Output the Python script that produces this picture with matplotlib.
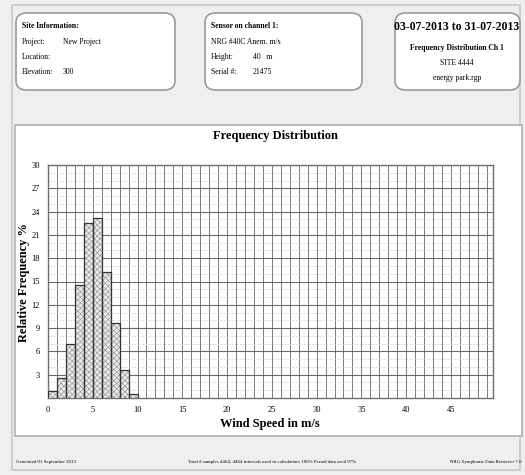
import matplotlib
matplotlib.use("Agg")
import matplotlib.pyplot as plt
from matplotlib.patches import FancyBboxPatch, Rectangle
from matplotlib.ticker import MultipleLocator

# wind speed bins (m/s, left edge) and relative frequency %
bins = [0, 1, 2, 3, 4, 5, 6, 7, 8, 9]
freq = [0.9, 2.6, 7.0, 14.6, 22.5, 23.2, 16.2, 9.7, 3.6, 0.5]
xticks = [0, 5, 10, 15, 20, 25, 30, 35, 40, 45]
yticks = [3, 6, 9, 12, 15, 18, 21, 24, 27, 30]

site_info = [("Project:", "New Project"), ("Location:", ""), ("Elevation:", "300")]
sensor_info = [("NRG #40C Anem. m/s", ""), ("Height:", "40   m"), ("Serial #:", "21475")]
period = "03-07-2013 to 31-07-2013"
box3_lines = ["Frequency Distribution Ch 1", "SITE 4444", "energy park.rgp"]
footer = ["Generated 01 September 2013",
          "Total # samples 4464; 4464 intervals used in calculation; 100% Period data used 97%",
          "NRG Symphonie Data Retriever 7.0"]

plt.rcParams["font.family"] = ["Liberation Serif", "DejaVu Serif"]
plt.rcParams["hatch.linewidth"] = 0.5

W, H = 525, 475
fig = plt.figure(figsize=(5.25, 4.75), dpi=100, facecolor="#efefef")


def fx(px):
    return px / W


def fy(py):
    return 1 - py / H


# outer panel edge
fig.add_artist(Rectangle((fx(12), fy(470)), fx(520) - fx(12), fy(5) - fy(470),
                         transform=fig.transFigure, fill=False, ec="#c8c8c8", lw=1.2, zorder=-2))

# header boxes
for x0, x1 in [(16, 175), (205, 362), (395, 520)]:
    fig.add_artist(FancyBboxPatch((fx(x0), fy(90)), fx(x1) - fx(x0), fy(13) - fy(90),
                                  boxstyle="round,pad=0,rounding_size=0.02",
                                  transform=fig.transFigure, fc="white", ec="#9a9a9a", lw=1.2))

fig.text(fx(22), fy(26), "Site Information:", fontsize=5.5, fontweight="bold", va="center")
for i, (k, v) in enumerate(site_info):
    fig.text(fx(22), fy(42 + 15 * i), k, fontsize=5.5, va="center")
    fig.text(fx(63), fy(42 + 15 * i), v, fontsize=5.5, va="center")

fig.text(fx(211), fy(26), "Sensor on channel 1:", fontsize=5.5, fontweight="bold", va="center")
for i, (k, v) in enumerate(sensor_info):
    fig.text(fx(211), fy(42 + 15 * i), k, fontsize=5.5, va="center")
    fig.text(fx(253), fy(42 + 15 * i), v, fontsize=5.5, va="center")

fig.text(fx(457), fy(27), period, fontsize=8.5, fontweight="bold", ha="center", va="center")
fig.text(fx(457), fy(48), box3_lines[0], fontsize=5.5, fontweight="bold", ha="center", va="center")
fig.text(fx(457), fy(63), box3_lines[1], fontsize=5.5, ha="center", va="center")
fig.text(fx(457), fy(78), box3_lines[2], fontsize=5.5, ha="center", va="center")

# chart panel
fig.add_artist(Rectangle((fx(15), fy(436)), fx(522) - fx(15), fy(125) - fy(436),
                         transform=fig.transFigure, fc="white", ec="#b0b0b0", lw=1.2, zorder=-1))

ax = fig.add_axes([fx(48), fy(398), fx(493) - fx(48), fy(165) - fy(398)])
ax.set_zorder(2)
ax.set_facecolor("white")
# hatched fill in light grey, dark outline drawn on top
ax.bar(bins, freq, width=1.0, align="edge", color="#ececec", edgecolor="#9a9a9a",
       hatch="xxxxxx", linewidth=0, zorder=3)
ax.bar(bins, freq, width=1.0, align="edge", fill=False, edgecolor="#333333",
       linewidth=0.9, zorder=4)
ax.set_xlim(0, 49.7)
ax.set_ylim(0, 30)
ax.xaxis.set_minor_locator(MultipleLocator(1))
ax.yaxis.set_minor_locator(MultipleLocator(1))
ax.set_xticks(xticks)
ax.set_yticks(yticks)
ax.grid(which="both", axis="x", color="#7a7a7a", lw=0.7, zorder=0)
ax.grid(which="major", axis="y", color="#6a6a6a", lw=0.8, zorder=0)
ax.grid(which="minor", axis="y", color="#c0c0c0", lw=0.5, ls=(0, (2, 2)), zorder=0)
ax.tick_params(which="both", length=0, labelsize=6, pad=6)
for s in ax.spines.values():
    s.set_color("#707070")
    s.set_linewidth(1.0)

fig.text(fx(275), fy(136), "Frequency Distribution", fontsize=9, fontweight="bold",
         ha="center", va="center")
fig.text(fx(270), fy(424), "Wind Speed in m/s", fontsize=9, fontweight="bold",
         ha="center", va="center")
fig.text(fx(24), fy(282), "Relative Frequency %", fontsize=9, fontweight="bold",
         ha="center", va="center", rotation=90)

# footer
fig.text(fx(16), fy(462), footer[0], fontsize=3.5, va="center")
fig.text(fx(272), fy(462), footer[1], fontsize=3.5, va="center", ha="center")
fig.text(fx(522), fy(462), footer[2], fontsize=3.5, va="center", ha="right")

fig.savefig("out.png", dpi=100, facecolor=fig.get_facecolor())
